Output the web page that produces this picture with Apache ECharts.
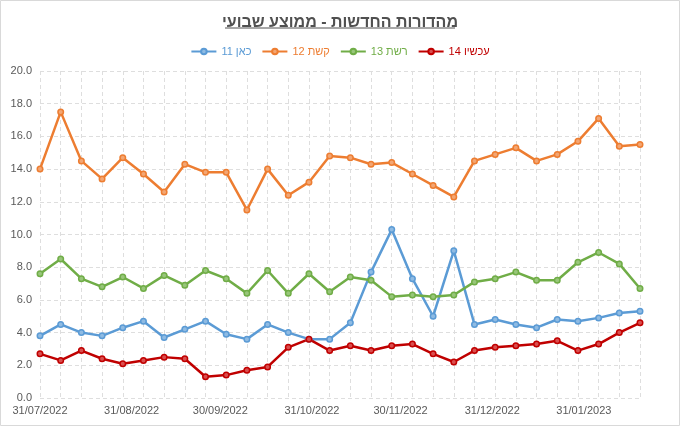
<!DOCTYPE html>
<html>
<head>
<meta charset="utf-8">
<script src="https://cdn.jsdelivr.net/npm/echarts@6/dist/echarts.min.js"></script>
<style>
  html, body { margin: 0; padding: 0; background: #fff; }
  #chart { width: 680px; height: 426px; }
</style>
</head>
<body>
<div id="chart" dir="rtl"></div>
<script>
// שבועות (תאריך תחילת שבוע)
const weeks = [
  '31/07/2022', '07/08/2022', '14/08/2022', '21/08/2022', '28/08/2022',
  '04/09/2022', '11/09/2022', '18/09/2022', '25/09/2022', '02/10/2022',
  '09/10/2022', '16/10/2022', '23/10/2022', '30/10/2022', '06/11/2022',
  '13/11/2022', '20/11/2022', '27/11/2022', '04/12/2022', '11/12/2022',
  '18/12/2022', '25/12/2022', '01/01/2023', '08/01/2023', '15/01/2023',
  '22/01/2023', '29/01/2023', '05/02/2023', '12/02/2023', '19/02/2023'
];

// תוויות ציר X
const xLabels = [
  '31/07/2022', '31/08/2022', '30/09/2022', '31/10/2022',
  '30/11/2022', '31/12/2022', '31/01/2023'
];

const kan11 = [3.8, 4.5, 4.0, 3.8, 4.3, 4.7, 3.7, 4.2, 4.7, 3.9,
  3.6, 4.5, 4.0, 3.6, 3.6, 4.6, 7.7, 10.3, 7.3, 5.0,
  9.0, 4.5, 4.8, 4.5, 4.3, 4.8, 4.7, 4.9, 5.2, 5.3];
const keshet12 = [14.0, 17.5, 14.5, 13.4, 14.7, 13.7, 12.6, 14.3, 13.8, 13.8,
  11.5, 14.0, 12.4, 13.2, 14.8, 14.7, 14.3, 14.4, 13.7, 13.0,
  12.3, 14.5, 14.9, 15.3, 14.5, 14.9, 15.7, 17.1, 15.4, 15.5];
const reshet13 = [7.6, 8.5, 7.3, 6.8, 7.4, 6.7, 7.5, 6.9, 7.8, 7.3,
  6.4, 7.8, 6.4, 7.6, 6.5, 7.4, 7.2, 6.2, 6.3, 6.2,
  6.3, 7.1, 7.3, 7.7, 7.2, 7.2, 8.3, 8.9, 8.2, 6.7];
const now14 = [2.7, 2.3, 2.9, 2.4, 2.1, 2.3, 2.5, 2.4, 1.3, 1.4,
  1.7, 1.9, 3.1, 3.6, 2.9, 3.2, 2.9, 3.2, 3.3, 2.7,
  2.2, 2.9, 3.1, 3.2, 3.3, 3.5, 2.9, 3.3, 4.0, 4.6];

const seriesNames = ['כאן 11', 'קשת 12', 'רשת 13', 'עכשיו 14'];
const seriesData = [kan11, keshet12, reshet13, now14];
const colors = ['#5b9bd5', '#ed7d31', '#70ad47', '#c00000'];
const tints = ['#8fbbe3', '#f3a673', '#98c67a', '#d94f4f'];

const FONT = "'Liberation Sans', 'DejaVu Sans', Arial, sans-serif";
const DAY = 86400000;

function toUTC(s) {
  const p = s.split('/');
  return Date.UTC(+p[2], +p[1] - 1, +p[0]);
}
const t0 = toUTC(weeks[0]);
// ימים מתחילת התקופה
function toDay(s) { return Math.round((toUTC(s) - t0) / DAY); }
function pad(n) { return n < 10 ? '0' + n : '' + n; }
function fmtDay(v) {
  const d = new Date(t0 + Math.round(v) * DAY);
  return pad(d.getUTCDate()) + '/' + pad(d.getUTCMonth() + 1) + '/' + d.getUTCFullYear();
}

const weekDays = weeks.map(toDay);

const chart = echarts.init(document.getElementById('chart'));

const option = {
  animation: false,
  textStyle: { fontFamily: FONT },
  title: {
    text: 'מהדורות החדשות - ממוצע שבועי',
    left: 'center',
    top: 10,
    textStyle: { fontFamily: FONT, fontSize: 16, fontWeight: 'bold', color: '#505050' }
  },
  legend: {
    top: 41,
    left: 'center',
    itemWidth: 25,
    itemHeight: 7,
    itemGap: 10,
    data: seriesNames.map((n, i) => ({ name: n, textStyle: { color: colors[i] } })),
    textStyle: { fontFamily: FONT, fontSize: 11 }
  },
  grid: { left: 40, right: 40, top: 71, bottom: 28 },
  xAxis: {
    type: 'value',
    min: weekDays[0],
    max: weekDays[weekDays.length - 1],
    axisLine: { show: false },
    axisTick: { show: false, customValues: weekDays },
    splitLine: { show: true, lineStyle: { color: '#dedede', type: [4, 3] } },
    axisLabel: {
      customValues: xLabels.map(toDay),
      formatter: fmtDay,
      color: '#595959',
      fontSize: 11,
      margin: 7,
      showMinLabel: true,
      showMaxLabel: true
    }
  },
  yAxis: {
    type: 'value',
    min: 0,
    max: 20,
    interval: 2,
    axisLine: { show: false },
    axisTick: { show: false },
    splitLine: { lineStyle: { color: '#dedede', type: [4, 3] } },
    axisLabel: {
      formatter: v => v.toFixed(1),
      color: '#595959',
      fontSize: 11,
      margin: 8
    }
  },
  graphic: [
    {
      type: 'line',
      shape: { x1: 225, y1: 28, x2: 455, y2: 28 },
      style: { stroke: '#505050', lineWidth: 1 }
    },
    {
      type: 'rect',
      shape: { x: 0.5, y: 0.5, width: 679, height: 425 },
      style: { fill: 'none', stroke: '#d9d9d9', lineWidth: 1 },
      silent: true
    }
  ],
  series: seriesNames.map((n, i) => ({
    name: n,
    type: 'line',
    color: colors[i],
    data: weekDays.map((d, k) => [d, seriesData[i][k]]),
    symbol: 'circle',
    symbolSize: 5.5,
    lineStyle: { width: 2.5, color: colors[i] },
    itemStyle: { color: tints[i], borderColor: colors[i], borderWidth: 1.5 }
  }))
};

chart.setOption(option);
</script>
</body>
</html>
